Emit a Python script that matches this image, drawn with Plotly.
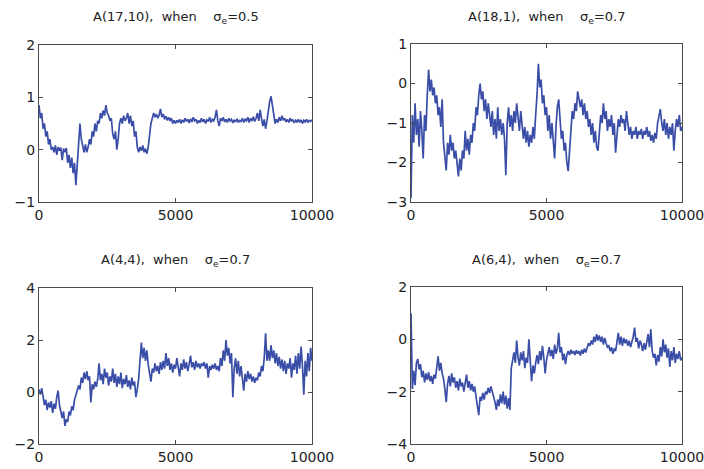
import plotly.graph_objects as go

# iteration index of each sampled point (every 50th draw)
iterations = list(range(0, 10001, 50))

a_17_10 = [
    0.85, 0.60, 0.70, 0.40, 0.50, 0.25, 0.35, 0.10, 0.20, 0.00,
    0.05, -0.05, 0.08, -0.10, 0.05, -0.02, 0.04, -0.20, 0.02, -0.05,
    0.03, -0.25, -0.10, -0.35, -0.15, -0.45, -0.25, -0.68, -0.30, 0.05,
    0.50, 0.20, 0.05, -0.05, 0.10, -0.05, 0.05, 0.20, 0.10, 0.35,
    0.25, 0.50, 0.35, 0.55, 0.50, 0.70, 0.60, 0.75, 0.65, 0.85,
    0.70, 0.65, 0.55, 0.60, 0.30, 0.20, 0.35, 0.00, 0.20, 0.50,
    0.60, 0.50, 0.65, 0.55, 0.60, 0.70, 0.50, 0.65, 0.45, 0.55,
    0.25, 0.35, 0.05, -0.05, 0.05, -0.02, 0.08, -0.05, 0.02, -0.08,
    0.05, 0.30, 0.50, 0.60, 0.70, 0.62, 0.68, 0.60, 0.66, 0.78,
    0.62, 0.68, 0.58, 0.64, 0.56, 0.62, 0.55, 0.60, 0.50, 0.56,
    0.50, 0.56, 0.52, 0.58, 0.50, 0.57, 0.52, 0.60, 0.54, 0.58,
    0.51, 0.59, 0.53, 0.62, 0.55, 0.58, 0.50, 0.56, 0.52, 0.60,
    0.53, 0.58, 0.50, 0.57, 0.54, 0.62, 0.52, 0.58, 0.55, 0.62,
    0.76, 0.55, 0.45, 0.60, 0.55, 0.62, 0.53, 0.58, 0.52, 0.60,
    0.55, 0.58, 0.51, 0.57, 0.53, 0.59, 0.52, 0.56, 0.54, 0.60,
    0.52, 0.58, 0.55, 0.62, 0.52, 0.60, 0.55, 0.63, 0.54, 0.60,
    0.70, 0.55, 0.76, 0.60, 0.45, 0.58, 0.40, 0.55, 0.75, 0.92,
    1.02, 0.85, 0.60, 0.50, 0.58, 0.52, 0.62, 0.55, 0.65, 0.56,
    0.60, 0.53, 0.58, 0.52, 0.60, 0.55, 0.57, 0.51, 0.56, 0.53,
    0.58, 0.52, 0.57, 0.50, 0.56, 0.53, 0.58, 0.52, 0.56, 0.54,
    0.57,
]

a_18_1 = [
    -2.9, -0.8, -1.5, -0.5, -1.3, -0.9, -1.6, -0.7, -1.2, -1.9,
    -0.8, -1.2, -0.3, 0.35, -0.2, 0.1, -0.3, -0.1, -0.5, -0.3,
    -0.8, -0.6, -1.1, -0.4, -1.5, -1.8, -2.2, -1.5, -1.8, -1.3,
    -1.7, -1.5, -1.9, -1.7, -2.1, -2.35, -1.9, -2.2, -1.7, -1.9,
    -1.2, -1.7, -1.4, -1.8, -1.3, -1.5, -1.0, -1.2, -0.6, -0.8,
    -0.3, 0.0, -0.4, -0.2, -0.7, -0.4, -0.9, -0.5, -0.8, -1.1,
    -0.7, -1.3, -0.9, -1.4, -0.6, -1.2, -0.9, -1.3, -1.0, -1.4,
    -2.32, -1.0, -0.6, -1.1, -0.8, -1.2, -0.7, -1.0, -0.5, -0.9,
    -1.2, -0.7, -1.1, -1.4, -1.1, -1.5, -1.2, -1.6, -1.3, -1.5,
    -1.1, -1.4, -0.8, -0.3, 0.5, -0.1, 0.1, -0.5, -0.3, -0.8,
    -0.6, -1.2, -0.8, -1.4, -1.0, -1.5, -1.9, -1.1, -0.6, -0.4,
    -1.0, -1.4, -1.2, -1.7, -1.5, -2.0, -2.22, -1.6, -1.0, -0.7,
    -0.9, -0.5, -0.7, -0.2, -0.4, -0.6, -0.4, -0.8, -0.5, -0.9,
    -0.7, -1.1, -0.9, -1.3, -1.0, -1.5, -1.2, -1.6, -1.7, -1.1,
    -0.8, -1.0, -0.5, -0.9, -0.7, -1.2, -0.9, -1.1, -0.8, -1.3,
    -1.0, -1.75, -1.2, -0.9, -1.1, -0.8, -1.0, -0.9, -1.2, -0.7,
    -1.0, -1.3, -1.1, -1.4, -1.2, -1.3, -1.1, -1.4, -1.2, -1.3,
    -1.15, -1.4, -1.2, -1.3, -1.1, -1.35, -1.2, -1.45, -1.3, -1.5,
    -1.25, -1.4, -1.0, -0.8, -0.65, -1.0, -1.2, -0.9, -1.3, -1.0,
    -1.4, -1.1, -1.3, -1.0, -1.7, -1.2, -0.9, -1.1, -0.8, -1.2,
    -1.1,
]

a_4_4 = [
    0.10, -0.10, 0.15, -0.30, -0.50, -0.30, -0.70, -0.40, -0.60, -0.35,
    -0.80, -0.45, -0.65, -0.20, 0.05, -0.50, -0.80, -1.00, -0.75, -1.30,
    -1.05, -1.15, -0.75, -0.90, -0.55, -0.70, -0.30, -0.10, 0.05, 0.25,
    0.10, 0.55, 0.35, 0.75, 0.50, 0.80, 0.45, 0.60, -0.40, 0.30,
    0.10, 0.40, 0.20, 0.50, 1.10, 0.45, 0.70, 0.30, 0.90, 0.55,
    0.75, 0.25, 0.60, 0.40, 0.90, 0.35, 0.70, 0.20, 0.60, 0.30,
    0.75, 0.15, 0.50, 0.30, 0.65, 0.20, 0.45, 0.10, 0.55, 0.25,
    0.40, -0.20, 0.10, 0.50, 1.20, 1.90, 1.30, 1.70, 1.20, 1.60,
    1.05, 0.70, 0.40, 0.90, 0.75, 1.10, 0.80, 1.00, 0.70, 1.15,
    0.85, 1.20, 0.90, 1.50, 1.00, 1.30, 0.85, 1.10, 0.75, 1.05,
    0.90, 1.30, 0.95, 0.60, 1.10, 0.85, 1.25, 0.90, 1.15, 0.80,
    1.05, 1.40, 0.95, 1.15, 0.85, 1.20, 0.95, 1.10, 0.90, 1.10,
    1.00, 1.15, 0.90, 1.10, 0.55, 1.00, 0.85, 1.05, 0.90, 1.10,
    0.85, 1.00, 0.80, 1.30, 1.00, 1.60, 1.20, 2.00, 1.40, 1.70,
    1.10, 1.50, -0.20, 0.90, 1.30, 0.70, 1.20, 0.60, 1.00, 0.40,
    0.05, 0.70, 0.40, 0.80, 0.50, 0.70, 0.40, 0.60, 0.35, 0.55,
    0.45, 0.75, 0.60, 1.00, 0.80, 1.30, 2.26, 1.20, 1.60, 1.20,
    1.80, 1.30, 1.60, 1.10, 1.50, 1.00, 1.35, 0.90, 1.25, 0.80,
    1.20, 0.70, 1.10, 0.90, 1.30, 0.55, 1.10, 0.85, 1.40, 0.70,
    1.50, 0.90, 1.75, 1.00, -0.10, 1.20, 0.60, 1.50, 0.80, 1.70,
    1.20,
]

a_6_4 = [
    1.00, -1.90, -1.20, -1.75, -0.90, -0.75, -1.15, -0.95, -1.45, -1.20,
    -1.65, -1.30, -1.55, -1.25, -1.60, -1.40, -1.70, -1.35, -1.50, -1.00,
    -0.65, -1.20, -0.90, -1.30, -1.50, -1.90, -2.40, -1.70, -1.40, -1.80,
    -1.30, -1.65, -1.45, -1.85, -1.60, -1.95, -1.50, -1.80, -1.65, -2.00,
    -1.70, -1.35, -1.85, -1.60, -1.95, -1.70, -2.00, -1.80, -2.20, -2.50,
    -2.90, -2.20, -2.35, -2.05, -2.30, -2.00, -2.10, -1.85, -2.05, -1.80,
    -2.00, -2.15, -2.40, -2.70, -2.30, -2.55, -2.10, -2.45, -2.00, -2.50,
    -2.15, -2.65, -2.25, -2.70, -1.10, -0.80, -0.50, -0.90, -0.05, -0.70,
    -1.00, -0.50, -0.80, -0.45, -1.10, -0.70, -0.90, 0.00, -0.95, -1.60,
    -1.00, -1.30, -0.90, -0.60, -0.95, -0.45, -0.80, -0.25, -0.70, -1.30,
    -0.80, -0.55, -0.30, -0.65, -0.40, -0.75, -0.20, -0.55, -0.35, 0.25,
    -0.50, -0.30, -0.80, -0.55, -0.95, -0.60, -0.45, -0.60, -0.40, -0.55,
    -0.45, -0.60, -0.42, -0.55, -0.45, -0.62, -0.40, -0.55, -0.35, -0.50,
    -0.30, -0.15, -0.25, -0.05, -0.20, 0.10, -0.10, 0.20, -0.05, 0.15,
    -0.10, 0.10, -0.20, 0.05, -0.15, -0.30, -0.25, -0.45, -0.30, -0.55,
    -0.35, -0.45, -0.10, 0.25, -0.20, 0.10, -0.25, 0.05, -0.15, 0.00,
    -0.25, -0.05, -0.30, -0.10, 0.10, 0.45, -0.10, 0.05, -0.35, -0.05,
    -0.20, -0.45, -0.15, -0.40, -0.05, 0.20, -0.30, 0.38, -0.45, -0.70,
    -0.55, -1.00, -0.60, -0.85, -0.30, -0.65, 0.00, -0.50, -0.20, -0.70,
    -0.35, -1.05, -0.45, -0.80, -0.30, -0.90, -0.55, -0.75, -0.45, -0.80,
    -0.70,
]

titles = [
    "A(17,10),\u00a0 when\u00a0\u00a0\u00a0\u00a0σ<sub>e</sub>=0.5",
    "A(18,1),\u00a0 when\u00a0\u00a0\u00a0\u00a0σ<sub>e</sub>=0.7",
    "A(4,4),\u00a0 when\u00a0\u00a0\u00a0\u00a0σ<sub>e</sub>=0.7",
    "A(6,4),\u00a0 when\u00a0\u00a0\u00a0\u00a0σ<sub>e</sub>=0.7",
]
series = [a_17_10, a_18_1, a_4_4, a_6_4]
y_ranges = [[-1, 2], [-3, 1], [-2, 4], [-4, 2]]
y_dticks = [1, 1, 2, 2]
x_ticks = [0, 5000, 10000]

W, H = 704, 469
# plot areas in pixels: (left, right, top, bottom)
boxes = [(39, 312, 45, 202), (411, 682, 44, 202), (39, 312, 288, 444), (411, 682, 287, 444)]
title_y_px = [17, 17, 260, 260]

LINE = "#3a4ea8"
AX = "#4a4a4a"
FONT = "DejaVu Sans"

fig = go.Figure()
layout = dict(
    width=W, height=H,
    margin=dict(l=0, r=0, t=0, b=0, autoexpand=False),
    paper_bgcolor="white", plot_bgcolor="white",
    showlegend=False,
    hovermode=False,
    font=dict(family=FONT, size=14, color="#222"),
    annotations=[],
)

for i, (vals, title, yr, dt, box, ty) in enumerate(zip(series, titles, y_ranges, y_dticks, boxes, title_y_px)):
    n = i + 1
    xa = "x" if n == 1 else f"x{n}"
    ya = "y" if n == 1 else f"y{n}"
    xs = iterations[:len(vals)]
    fig.add_trace(go.Scatter(x=xs, y=vals, mode="lines", xaxis=xa, yaxis=ya,
                             line=dict(color=LINE, width=1.7), hoverinfo="skip"))
    l, r, t, b = box
    common = dict(showline=True, mirror="ticks", linecolor=AX, linewidth=1,
                  ticks="inside", ticklen=4, tickcolor=AX, showgrid=False, zeroline=False,
                  automargin=False, ticklabeloverflow="allow",
                  tickfont=dict(family=FONT, size=14, color="#222"))
    layout["xaxis" if n == 1 else f"xaxis{n}"] = dict(
        domain=[l / W, r / W], range=[0, 10000], tickmode="array", tickvals=x_ticks,
        ticktext=[str(v) for v in x_ticks], anchor=ya, **common)
    layout["yaxis" if n == 1 else f"yaxis{n}"] = dict(
        domain=[1 - b / H, 1 - t / H], range=yr, dtick=dt, tick0=0, anchor=xa, **common)
    layout["annotations"].append(dict(
        text=title, xref="paper", yref="paper", x=(l + r) / 2 / W, y=1 - ty / H,
        xanchor="center", yanchor="middle", showarrow=False,
        font=dict(family=FONT, size=13, color="#222")))

fig.update_layout(**layout)
fig.write_html(
    "out.html",
    config={"displayModeBar": False, "staticPlot": True},
    post_script="document.body.style.margin='0';document.body.style.overflow='hidden';",
)
